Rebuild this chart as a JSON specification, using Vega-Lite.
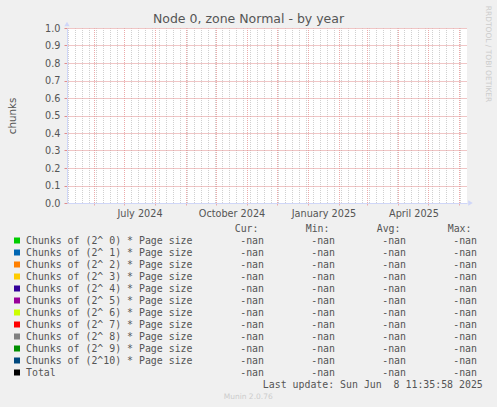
{
  "$schema": "https://vega.github.io/schema/vega-lite/v6.json",
  "width": 400,
  "height": 175,
  "autosize": {"type": "none"},
  "padding": {"left": 67, "top": 28, "right": 30, "bottom": 204},
  "background": "#f0f0f0",
  "config": {
    "view": {"stroke": null, "fill": "#ffffff"},
    "font": "DejaVu Sans",
    "axis": {"labelFont": "DejaVu Sans", "labelFontSize": 9.7, "labelColor": "#555555", "titleFont": "DejaVu Sans", "titleFontWeight": "normal", "labelOverlap": false}
  },
  "title": {"text": "Node 0, zone Normal - by year", "frame": "group", "anchor": "middle", "dx": -18.5, "offset": -30, "baseline": "alphabetic", "font": "DejaVu Sans", "fontSize": 12.5, "fontWeight": "normal", "color": "#555555"},
  "data": {"values": [
    {"series": "Chunks of (2^ 0) * Page size", "time": "2025-06-08T11:35:58", "chunks": null, "cur": "-nan", "min": "-nan", "avg": "-nan", "max": "-nan"},
    {"series": "Chunks of (2^ 1) * Page size", "time": "2025-06-08T11:35:58", "chunks": null, "cur": "-nan", "min": "-nan", "avg": "-nan", "max": "-nan"},
    {"series": "Chunks of (2^ 2) * Page size", "time": "2025-06-08T11:35:58", "chunks": null, "cur": "-nan", "min": "-nan", "avg": "-nan", "max": "-nan"},
    {"series": "Chunks of (2^ 3) * Page size", "time": "2025-06-08T11:35:58", "chunks": null, "cur": "-nan", "min": "-nan", "avg": "-nan", "max": "-nan"},
    {"series": "Chunks of (2^ 4) * Page size", "time": "2025-06-08T11:35:58", "chunks": null, "cur": "-nan", "min": "-nan", "avg": "-nan", "max": "-nan"},
    {"series": "Chunks of (2^ 5) * Page size", "time": "2025-06-08T11:35:58", "chunks": null, "cur": "-nan", "min": "-nan", "avg": "-nan", "max": "-nan"},
    {"series": "Chunks of (2^ 6) * Page size", "time": "2025-06-08T11:35:58", "chunks": null, "cur": "-nan", "min": "-nan", "avg": "-nan", "max": "-nan"},
    {"series": "Chunks of (2^ 7) * Page size", "time": "2025-06-08T11:35:58", "chunks": null, "cur": "-nan", "min": "-nan", "avg": "-nan", "max": "-nan"},
    {"series": "Chunks of (2^ 8) * Page size", "time": "2025-06-08T11:35:58", "chunks": null, "cur": "-nan", "min": "-nan", "avg": "-nan", "max": "-nan"},
    {"series": "Chunks of (2^ 9) * Page size", "time": "2025-06-08T11:35:58", "chunks": null, "cur": "-nan", "min": "-nan", "avg": "-nan", "max": "-nan"},
    {"series": "Chunks of (2^10) * Page size", "time": "2025-06-08T11:35:58", "chunks": null, "cur": "-nan", "min": "-nan", "avg": "-nan", "max": "-nan"},
    {"series": "Total", "time": "2025-06-08T11:35:58", "chunks": null, "cur": "-nan", "min": "-nan", "avg": "-nan", "max": "-nan"}
  ]},
  "resolve": {
    "scale": {"x": "independent", "y": "independent", "color": "independent"},
    "axis": {"x": "independent", "y": "independent"}
  },
  "layer": [
    {
      "mark": {"type": "line", "strokeWidth": 1},
      "encoding": {
        "x": {
          "field": "time", "type": "temporal",
          "scale": {"domain": [{"year": 2024, "month": 5, "date": 5}, {"year": 2025, "month": 6, "date": 9}]},
          "axis": {
            "orient": "bottom",
            "values": [
              {"year": 2024, "month": 5, "date": 6}, {"year": 2024, "month": 5, "date": 13}, {"year": 2024, "month": 5, "date": 20}, {"year": 2024, "month": 5, "date": 27},
              {"year": 2024, "month": 6, "date": 3}, {"year": 2024, "month": 6, "date": 10}, {"year": 2024, "month": 6, "date": 17}, {"year": 2024, "month": 6, "date": 24},
              {"year": 2024, "month": 7, "date": 1}, {"year": 2024, "month": 7, "date": 8}, {"year": 2024, "month": 7, "date": 15}, {"year": 2024, "month": 7, "date": 22}, {"year": 2024, "month": 7, "date": 29},
              {"year": 2024, "month": 8, "date": 5}, {"year": 2024, "month": 8, "date": 12}, {"year": 2024, "month": 8, "date": 19}, {"year": 2024, "month": 8, "date": 26},
              {"year": 2024, "month": 9, "date": 2}, {"year": 2024, "month": 9, "date": 9}, {"year": 2024, "month": 9, "date": 16}, {"year": 2024, "month": 9, "date": 23}, {"year": 2024, "month": 9, "date": 30},
              {"year": 2024, "month": 10, "date": 7}, {"year": 2024, "month": 10, "date": 14}, {"year": 2024, "month": 10, "date": 21}, {"year": 2024, "month": 10, "date": 28},
              {"year": 2024, "month": 11, "date": 4}, {"year": 2024, "month": 11, "date": 11}, {"year": 2024, "month": 11, "date": 18}, {"year": 2024, "month": 11, "date": 25},
              {"year": 2024, "month": 12, "date": 2}, {"year": 2024, "month": 12, "date": 9}, {"year": 2024, "month": 12, "date": 16}, {"year": 2024, "month": 12, "date": 23}, {"year": 2024, "month": 12, "date": 30},
              {"year": 2025, "month": 1, "date": 6}, {"year": 2025, "month": 1, "date": 13}, {"year": 2025, "month": 1, "date": 20}, {"year": 2025, "month": 1, "date": 27},
              {"year": 2025, "month": 2, "date": 3}, {"year": 2025, "month": 2, "date": 10}, {"year": 2025, "month": 2, "date": 17}, {"year": 2025, "month": 2, "date": 24},
              {"year": 2025, "month": 3, "date": 3}, {"year": 2025, "month": 3, "date": 10}, {"year": 2025, "month": 3, "date": 17}, {"year": 2025, "month": 3, "date": 24}, {"year": 2025, "month": 3, "date": 31},
              {"year": 2025, "month": 4, "date": 7}, {"year": 2025, "month": 4, "date": 14}, {"year": 2025, "month": 4, "date": 21}, {"year": 2025, "month": 4, "date": 28},
              {"year": 2025, "month": 5, "date": 5}, {"year": 2025, "month": 5, "date": 12}, {"year": 2025, "month": 5, "date": 19}, {"year": 2025, "month": 5, "date": 26},
              {"year": 2025, "month": 6, "date": 2}
            ],
            "grid": true, "gridColor": "#d0d0d0", "gridDash": [1, 1], "gridDashOffset": 0.5, "gridWidth": 1,
            "ticks": false, "labels": false, "domain": false,
            "title": "Munin 2.0.76", "titleX": 180.7, "titleY": 193.7, "titleAlign": "center", "titleBaseline": "middle",
            "titleFontSize": 7.5, "titleColor": "#cccccc"
          }
        },
        "y": {
          "field": "chunks", "type": "quantitative",
          "scale": {"domain": [0, 1], "nice": false},
          "axis": {
            "orient": "left",
            "values": [0, 0.1, 0.2, 0.3, 0.4, 0.5, 0.6, 0.7, 0.8, 0.9, 1.0],
            "format": ".1f",
            "grid": true, "gridColor": "#e08c8c", "gridDash": [1, 1], "gridDashOffset": 0, "gridWidth": 1,
            "ticks": true, "tickColor": "#e08c8c", "tickSize": 3, "labelPadding": 4,
            "domain": true, "domainColor": "#cfd6f8",
            "title": "chunks", "titleX": -52, "titleY": 87.5, "titleAngle": -90, "titleAlign": "center", "titleBaseline": "alphabetic",
            "titleFontSize": 10.3, "titleColor": "#555555"
          }
        },
        "color": {
          "field": "series", "type": "nominal", "legend": null,
          "scale": {
            "domain": ["Chunks of (2^ 0) * Page size", "Chunks of (2^ 1) * Page size", "Chunks of (2^ 2) * Page size", "Chunks of (2^ 3) * Page size", "Chunks of (2^ 4) * Page size", "Chunks of (2^ 5) * Page size", "Chunks of (2^ 6) * Page size", "Chunks of (2^ 7) * Page size", "Chunks of (2^ 8) * Page size", "Chunks of (2^ 9) * Page size", "Chunks of (2^10) * Page size", "Total"],
            "range": ["#00cc00", "#0066b3", "#ff8000", "#ffcc00", "#330099", "#990099", "#ccff00", "#ff0000", "#808080", "#008f00", "#00487d", "#000000"]
          }
        }
      }
    },
    {
      "mark": {"type": "line", "strokeWidth": 1},
      "encoding": {
        "x": {
          "field": "time", "type": "temporal",
          "scale": {"domain": [{"year": 2024, "month": 5, "date": 5}, {"year": 2025, "month": 6, "date": 9}]},
          "axis": {
            "orient": "bottom",
            "tickCount": {"interval": "month", "step": 1},
            "grid": true, "gridColor": "#ecaaaa", "gridDash": [1, 1], "gridDashOffset": 0.5, "gridWidth": 1,
            "ticks": true, "tickColor": "#ecaaaa", "tickSize": 2,
            "domain": true, "domainColor": "#cfd6f8",
            "labelExpr": "month(datum.value) % 3 === 0 ? timeFormat(datum.value, '%B %Y') : ''",
            "labelOffset": 15.5, "labelPadding": 11, "labelBaseline": "alphabetic", "labelAlign": "center",
            "labelFlush": false, "labelBound": false, "labelAngle": 0,
            "title": null
          }
        },
        "y": {
          "field": "chunks", "type": "quantitative",
          "scale": {"domain": [0, 1], "nice": false},
          "axis": {
            "orient": "right", "grid": false, "ticks": false, "labels": false, "domain": false,
            "title": "RRDTOOL / TOBI OETIKER", "titleX": 18, "titleY": 25.5, "titleAngle": 90, "titleAlign": "center", "titleBaseline": "alphabetic",
            "titleFontSize": 7.5, "titleColor": "#cccccc"
          }
        }
      }
    },
    {
      "data": {"values": [{"arrow": "x"}]},
      "mark": {"type": "point", "shape": "triangle-right", "filled": true, "color": "#cfd6f8", "size": 28, "opacity": 1},
      "encoding": {
        "x": {"datum": {"year": 2025, "month": 6, "date": 12, "hours": 12}, "type": "temporal", "scale": {"domain": [{"year": 2024, "month": 5, "date": 5}, {"year": 2025, "month": 6, "date": 9}]}, "axis": null},
        "y": {"datum": 0, "type": "quantitative", "scale": {"domain": [0, 1], "nice": false}, "axis": null}
      }
    },
    {
      "data": {"values": [{"arrow": "y"}]},
      "mark": {"type": "point", "shape": "triangle-up", "filled": true, "color": "#cfd6f8", "size": 28, "opacity": 1},
      "encoding": {
        "x": {"datum": {"year": 2024, "month": 5, "date": 5}, "type": "temporal", "scale": {"domain": [{"year": 2024, "month": 5, "date": 5}, {"year": 2025, "month": 6, "date": 9}]}, "axis": null},
        "y": {"datum": 1.023, "type": "quantitative", "scale": {"domain": [0, 1], "nice": false}, "axis": null}
      }
    },
    {
      "mark": {"type": "square", "size": 36, "filled": true, "opacity": 1},
      "encoding": {
        "x": {"datum": "swatch", "type": "nominal", "scale": {"type": "point", "domain": ["swatch"], "range": [-50, -50], "padding": 0}, "axis": null},
        "y": {"field": "series", "type": "nominal", "sort": null, "scale": {"type": "point", "range": [212.5, 344.5], "padding": 0}, "axis": null},
        "color": {
          "field": "series", "type": "nominal", "legend": null,
          "scale": {
            "domain": ["Chunks of (2^ 0) * Page size", "Chunks of (2^ 1) * Page size", "Chunks of (2^ 2) * Page size", "Chunks of (2^ 3) * Page size", "Chunks of (2^ 4) * Page size", "Chunks of (2^ 5) * Page size", "Chunks of (2^ 6) * Page size", "Chunks of (2^ 7) * Page size", "Chunks of (2^ 8) * Page size", "Chunks of (2^ 9) * Page size", "Chunks of (2^10) * Page size", "Total"],
            "range": ["#00cc00", "#0066b3", "#ff8000", "#ffcc00", "#330099", "#990099", "#ccff00", "#ff0000", "#808080", "#008f00", "#00487d", "#000000"]
          }
        }
      }
    },
    {
      "mark": {"type": "text", "align": "left", "baseline": "middle", "font": "DejaVu Sans Mono", "fontSize": 9.9, "color": "#555555"},
      "encoding": {
        "x": {"datum": "name", "type": "nominal", "scale": {"type": "point", "domain": ["name"], "range": [-41, -41], "padding": 0}, "axis": null},
        "y": {"field": "series", "type": "nominal", "sort": null, "scale": {"type": "point", "range": [212.8, 344.8], "padding": 0}, "axis": null},
        "text": {"field": "series", "type": "nominal"}
      }
    },
    {
      "transform": [{"fold": ["cur", "min", "avg", "max"], "as": ["stat", "value"]}],
      "mark": {"type": "text", "align": "right", "baseline": "middle", "font": "DejaVu Sans Mono", "fontSize": 9.9, "color": "#555555"},
      "encoding": {
        "x": {
          "field": "stat", "type": "nominal",
          "scale": {"type": "point", "domain": ["cur", "min", "avg", "max"], "range": [197, 410], "padding": 0},
          "axis": {
            "orient": "bottom", "ticks": false, "domain": false, "grid": false,
            "labelExpr": "datum.value === 'cur' ? 'Cur:' : datum.value === 'min' ? 'Min:' : datum.value === 'avg' ? 'Avg:' : 'Max:'",
            "labelAlign": "right", "labelBaseline": "middle", "labelOffset": -6, "labelPadding": 25.5, "labelAngle": 0,
            "labelFont": "DejaVu Sans Mono", "labelFontSize": 9.9, "labelColor": "#555555",
            "title": "Last update: Sun Jun\u00a0 8 11:35:58 2025", "titleX": 415.3, "titleY": 181, "titleAlign": "right", "titleBaseline": "middle",
            "titleFont": "DejaVu Sans Mono", "titleFontSize": 9.9, "titleColor": "#555555"
          }
        },
        "y": {"field": "series", "type": "nominal", "sort": null, "scale": {"type": "point", "range": [212.8, 344.8], "padding": 0}, "axis": null},
        "text": {"field": "value", "type": "nominal"}
      }
    }
  ]
}
